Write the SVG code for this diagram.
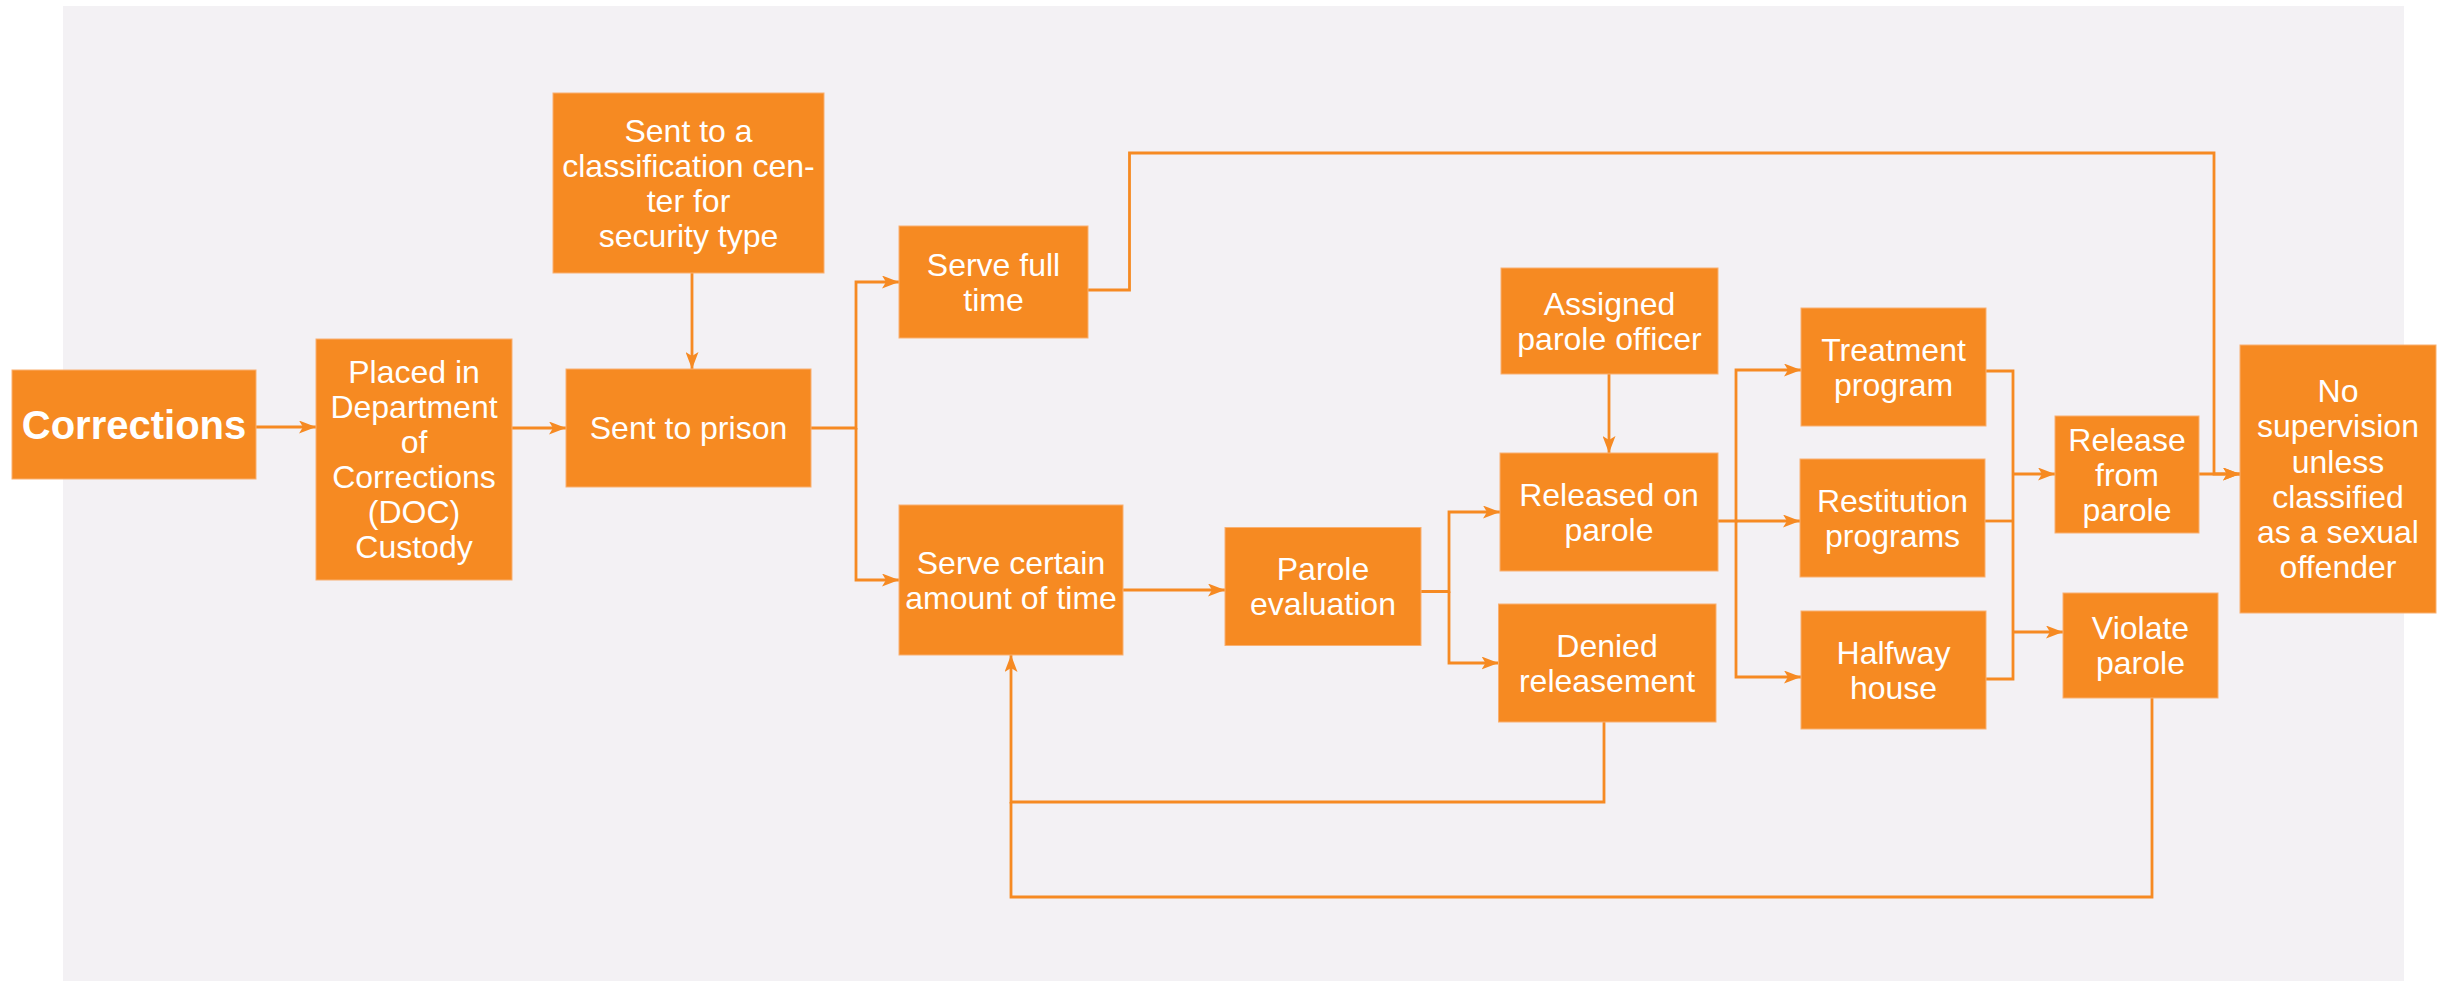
<svg xmlns="http://www.w3.org/2000/svg" width="2443" height="981" viewBox="0 0 2443 981">
  <style>
    .box { fill: #F68A22; stroke: #F9B070; stroke-width: 1; }
    .t { font-family: "Liberation Sans", Arial, sans-serif; font-size: 32px; fill: #FFFFFF; text-anchor: middle; }
    .tb { font-family: "Liberation Sans", Arial, sans-serif; font-size: 40px; font-weight: bold; fill: #FFFFFF; text-anchor: middle; }
    .edge { fill: none; stroke: #F68A22; stroke-width: 2.8; stroke-linejoin: miter; }
  </style>
  <defs>
    <marker id="arrow" markerWidth="17" markerHeight="13" viewBox="0 0 17 13" refX="17" refY="6.5" orient="auto" markerUnits="userSpaceOnUse">
      <path d="M0,0 L17,6.5 L0,13 L4,6.5 Z" fill="#F68A22"/>
    </marker>
  </defs>

  <!-- background panel -->
  <rect x="0" y="0" width="2443" height="981" fill="#FFFFFF"/>
  <rect x="63" y="6" width="2341" height="975" fill="#F3F1F4"/>

  <!-- connectors -->
  <g id="connectors">
    <path class="edge" d="M256,427 H316" marker-end="url(#arrow)"/>
    <path class="edge" d="M512,428 H566" marker-end="url(#arrow)"/>
    <path class="edge" d="M692,273 V369" marker-end="url(#arrow)"/>
    <path class="edge" d="M811,428 H856 V282 H899" marker-end="url(#arrow)"/>
    <path class="edge" d="M856,428 V580 H899" marker-end="url(#arrow)"/>
    <path class="edge" d="M1088,290 H1129.5 V153 H2214 V474 H2240" marker-end="url(#arrow)"/>
    <path class="edge" d="M2199,474 H2240" marker-end="url(#arrow)"/>
    <path class="edge" d="M1123,590 H1225" marker-end="url(#arrow)"/>
    <path class="edge" d="M1421,591.5 H1449 V512 H1500" marker-end="url(#arrow)"/>
    <path class="edge" d="M1449,591.5 V663 H1498.5" marker-end="url(#arrow)"/>
    <path class="edge" d="M1609,374 V453" marker-end="url(#arrow)"/>
    <path class="edge" d="M1718,521 H1736 V370 H1801" marker-end="url(#arrow)"/>
    <path class="edge" d="M1736,521 H1800" marker-end="url(#arrow)"/>
    <path class="edge" d="M1736,521 V677 H1801" marker-end="url(#arrow)"/>
    <path class="edge" d="M1986,371 H2013 V679 H1986"/>
    <path class="edge" d="M1985,521 H2013"/>
    <path class="edge" d="M2013,474 H2055" marker-end="url(#arrow)"/>
    <path class="edge" d="M2013,632 H2063" marker-end="url(#arrow)"/>
    <path class="edge" d="M1604,722 V802 H1011 V655" marker-end="url(#arrow)"/>
    <path class="edge" d="M2152,698 V897 H1011 V802"/>
  </g>

  <g id="corrections">
    <rect class="box" x="12" y="370" width="244" height="109"/>
    <text class="tb" x="134" y="439">Corrections</text>
  </g>

  <g id="placed-doc">
    <rect class="box" x="316" y="339" width="196" height="241"/>
    <text class="t" x="414" y="383">Placed in</text>
    <text class="t" x="414" y="418">Department</text>
    <text class="t" x="414" y="453">of</text>
    <text class="t" x="414" y="488">Corrections</text>
    <text class="t" x="414" y="523">(DOC)</text>
    <text class="t" x="414" y="558">Custody</text>
  </g>

  <g id="classification">
    <rect class="box" x="553" y="93" width="271" height="180"/>
    <text class="t" x="688.5" y="141.5">Sent to a</text>
    <text class="t" x="688.5" y="176.5">classification cen-</text>
    <text class="t" x="688.5" y="211.5">ter for</text>
    <text class="t" x="688.5" y="246.5">security type</text>
  </g>

  <g id="sent-to-prison">
    <rect class="box" x="566" y="369" width="245" height="118"/>
    <text class="t" x="688.5" y="439">Sent to prison</text>
  </g>

  <g id="serve-full-time">
    <rect class="box" x="899" y="226" width="189" height="112"/>
    <text class="t" x="993.5" y="275.5">Serve full</text>
    <text class="t" x="993.5" y="310.5">time</text>
  </g>

  <g id="serve-certain">
    <rect class="box" x="899" y="505" width="224" height="150"/>
    <text class="t" x="1011" y="573.5">Serve certain</text>
    <text class="t" x="1011" y="608.5">amount of time</text>
  </g>

  <g id="parole-evaluation">
    <rect class="box" x="1225" y="527.5" width="196" height="118"/>
    <text class="t" x="1323" y="580">Parole</text>
    <text class="t" x="1323" y="615">evaluation</text>
  </g>

  <g id="assigned-officer">
    <rect class="box" x="1501" y="268" width="217" height="106"/>
    <text class="t" x="1609.5" y="314.5">Assigned</text>
    <text class="t" x="1609.5" y="349.5">parole officer</text>
  </g>

  <g id="released-on-parole">
    <rect class="box" x="1500" y="453" width="218" height="118"/>
    <text class="t" x="1609" y="505.5">Released on</text>
    <text class="t" x="1609" y="540.5">parole</text>
  </g>

  <g id="denied-releasement">
    <rect class="box" x="1498.5" y="604" width="217.5" height="118"/>
    <text class="t" x="1607" y="656.5">Denied</text>
    <text class="t" x="1607" y="691.5">releasement</text>
  </g>

  <g id="treatment-program">
    <rect class="box" x="1801" y="308" width="185" height="118"/>
    <text class="t" x="1893.5" y="360.5">Treatment</text>
    <text class="t" x="1893.5" y="395.5">program</text>
  </g>

  <g id="restitution-programs">
    <rect class="box" x="1800" y="459" width="185" height="118"/>
    <text class="t" x="1892.5" y="511.5">Restitution</text>
    <text class="t" x="1892.5" y="546.5">programs</text>
  </g>

  <g id="halfway-house">
    <rect class="box" x="1801" y="611" width="185" height="118"/>
    <text class="t" x="1893.5" y="663.5">Halfway</text>
    <text class="t" x="1893.5" y="698.5">house</text>
  </g>

  <g id="release-from-parole">
    <rect class="box" x="2055" y="416" width="144" height="117"/>
    <text class="t" x="2127" y="450.5">Release</text>
    <text class="t" x="2127" y="485.5">from</text>
    <text class="t" x="2127" y="520.5">parole</text>
  </g>

  <g id="violate-parole">
    <rect class="box" x="2063" y="593" width="155" height="105"/>
    <text class="t" x="2140.5" y="639">Violate</text>
    <text class="t" x="2140.5" y="674">parole</text>
  </g>

  <g id="no-supervision">
    <rect class="box" x="2240" y="345" width="196" height="268"/>
    <text class="t" x="2338" y="402">No</text>
    <text class="t" x="2338" y="437">supervision</text>
    <text class="t" x="2338" y="472.5">unless</text>
    <text class="t" x="2338" y="508">classified</text>
    <text class="t" x="2338" y="543">as a sexual</text>
    <text class="t" x="2338" y="578">offender</text>
  </g>
</svg>
